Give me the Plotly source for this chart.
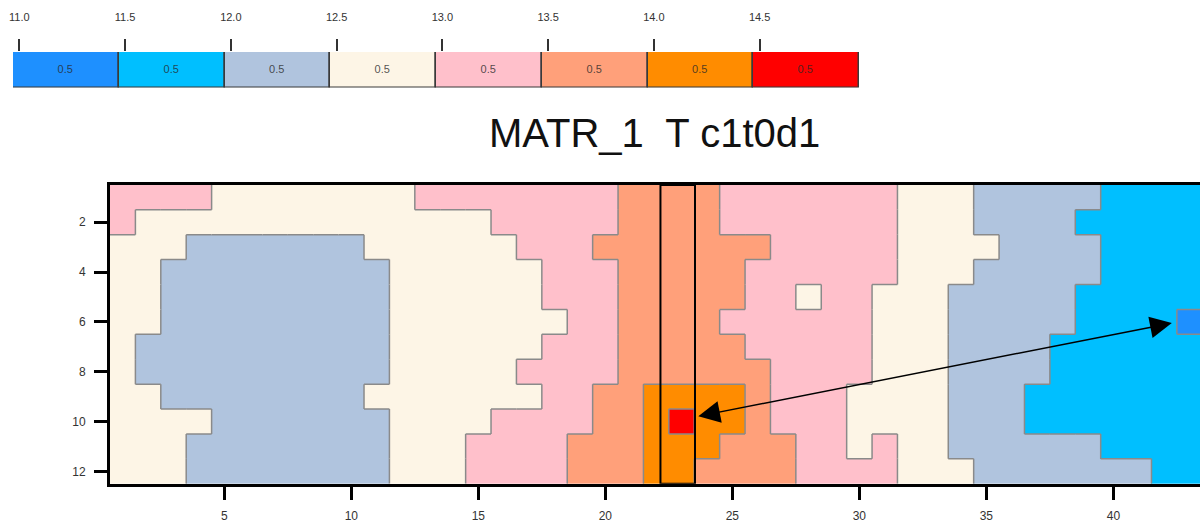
import plotly.graph_objects as go

# ---------------- data ----------------
TITLE = "MATR_1  T c1t0d1"

BIN_EDGES = [11.0, 11.5, 12.0, 12.5, 13.0, 13.5, 14.0, 14.5, 15.0]
BIN_COLORS = ["#1E90FF", "#00BFFF", "#B0C4DE", "#FDF5E6",
              "#FFC0CB", "#FFA07A", "#FF8C00", "#FF0000"]
BIN_WIDTH_LABELS = ["0.5", "0.5", "0.5", "0.5", "0.5", "0.5", "0.5", "0.5"]
EDGE_TICK_LABELS = ["11.0", "11.5", "12.0", "12.5", "13.0", "13.5", "14.0", "14.5"]

# class index (bin of BIN_EDGES) of every cell, row 1 (top) .. row 12, columns 1..43
GRID_ROWS = [
    "4444 33333333 44444444 5555 4444444 333 22222 1111",
    "4 33333333333333 44444 5555 4444444 333 2222 11111",
    "333 2222222 333333 444 5555555 44444 3333 2222 1111",
    "33 222222222 333333 444 55555 444444 333 22222 1111",
    "33 222222222 333333 444 55555 44 3 44 333 22222 11111",
    "33 222222222 3333333 44 5555 444444 333 22222 1111 0",
    "3 2222222222 333333 444 55555 44444 333 2222 111111",
    "3 2222222222 33333 4444 555555 4444 333 2222 111111",
    "33 22222222 3333333 44 55 6666 5 444 3333 222 1111111",
    "3333 2222222 3333 4444 55 6 7 66 5 444 3333 222 1111111",
    "333 22222222 333 4444 555 666 555 44 3 4 33 222222 1111",
    "333 22222222 333 4444 555 66 5555 4444 333 2222222 11",
]

X_TICKS = [5, 10, 15, 20, 25, 30, 35, 40]
Y_TICKS = [2, 4, 6, 8, 10, 12]

HIGHLIGHT_COLUMN_SPAN = [22.17, 23.53]
ARROW_FROM = (23.6, 9.8)   # near the hottest cell
ARROW_TO = (42.3, 6.05)    # near the coldest cell

# ---------------- build ----------------
grid = [[int(ch) for ch in row.replace(" ", "")] for row in GRID_ROWS]
for row in grid:
    assert len(row) == 43, len(row)
n_rows = len(grid)
n_cols = len(grid[0])

z = [[BIN_EDGES[k] + (BIN_EDGES[k + 1] - BIN_EDGES[k]) / 2 for k in row] for row in grid]
xs = list(range(1, n_cols + 1))
ys = list(range(1, n_rows + 1))

zmin, zmax = BIN_EDGES[0], BIN_EDGES[-1]
nb = len(BIN_COLORS)
colorscale = []
for i, c in enumerate(BIN_COLORS):
    colorscale.append([i / nb, c])
    colorscale.append([(i + 1) / nb, c])

# class boundaries
bx, by = [], []
for r in range(n_rows):
    for c in range(n_cols - 1):
        if grid[r][c] != grid[r][c + 1]:
            bx += [c + 1.5, c + 1.5, None]
            by += [r + 0.5, r + 1.5, None]
for r in range(n_rows - 1):
    for c in range(n_cols):
        if grid[r][c] != grid[r + 1][c]:
            bx += [c + 0.5, c + 1.5, None]
            by += [r + 1.5, r + 1.5, None]

FONT = "Liberation Sans, Arial, sans-serif"

fig = go.Figure()
fig.add_trace(go.Heatmap(
    x=xs, y=ys, z=z, zmin=zmin, zmax=zmax, colorscale=colorscale,
    showscale=False, hoverinfo="skip", xaxis="x", yaxis="y"))
fig.add_trace(go.Scatter(
    x=bx, y=by, mode="lines", line=dict(color="#8a8a8a", width=1.5),
    hoverinfo="skip", showlegend=False, xaxis="x", yaxis="y"))

# legend bar (discrete colour key)
centers = [(BIN_EDGES[i] + BIN_EDGES[i + 1]) / 2 for i in range(nb)]
widths = [BIN_EDGES[i + 1] - BIN_EDGES[i] for i in range(nb)]
fig.add_trace(go.Bar(
    x=centers, y=[1] * nb, width=widths, base=0,
    marker=dict(color=BIN_COLORS, line=dict(color="#3a3a3a", width=1.5)),
    text=BIN_WIDTH_LABELS, textposition="inside", insidetextanchor="middle",
    textfont=dict(size=11, color="rgba(40,40,40,0.8)", family=FONT),
    textangle=0, hoverinfo="skip", showlegend=False, xaxis="x2", yaxis="y2"))

fig.add_shape(type="rect", xref="x", yref="y",
              x0=HIGHLIGHT_COLUMN_SPAN[0], x1=HIGHLIGHT_COLUMN_SPAN[1],
              y0=0.5, y1=n_rows + 0.5, line=dict(color="black", width=2),
              fillcolor="rgba(0,0,0,0)", layer="above")

fig.add_annotation(x=ARROW_TO[0], y=ARROW_TO[1], ax=ARROW_FROM[0], ay=ARROW_FROM[1],
                   xref="x", yref="y", axref="x", ayref="y", text="",
                   showarrow=True, arrowside="end+start", arrowhead=2, startarrowhead=2,
                   arrowsize=2.9, startarrowsize=2.9, arrowwidth=1.5, arrowcolor="black")

fig.add_annotation(x=654 / 1200, y=1 - 133 / 525, xref="paper", yref="paper",
                   text=TITLE, showarrow=False, xanchor="center", yanchor="middle",
                   font=dict(size=40, color="#111111", family=FONT))

tick_offset = 0.03
fig.update_layout(
    width=1200, height=525,
    margin=dict(l=0, r=0, t=0, b=0),
    paper_bgcolor="white", plot_bgcolor="white",
    showlegend=False, bargap=0,
    font=dict(family=FONT, color="#333333"),
    xaxis=dict(domain=[110 / 1200, 1.0], range=[0.5, 43.41], anchor="y",
               tickmode="array", tickvals=X_TICKS, ticks="outside", ticklen=13,
               tickwidth=3, tickcolor="black", showline=True, linewidth=3,
               linecolor="black", mirror=True, showgrid=False, zeroline=False,
               tickfont=dict(size=12, color="#333333"), ticklabelstandoff=6,
               automargin=False),
    yaxis=dict(domain=[1 - 483.75 / 525, 1 - 184.9 / 525], range=[n_rows + 0.5, 0.5],
               anchor="x", tickmode="array", tickvals=Y_TICKS, ticks="outside",
               ticklen=13, tickwidth=3, tickcolor="black", showline=True,
               linewidth=3, linecolor="black", mirror=False, showgrid=False,
               zeroline=False, tickfont=dict(size=12, color="#333333"),
               ticklabelstandoff=6, automargin=False),
    xaxis2=dict(domain=[13 / 1200, 859 / 1200], range=[BIN_EDGES[0], BIN_EDGES[-1]],
                anchor="y2", side="top", tickmode="array",
                tickvals=[e + tick_offset for e in BIN_EDGES[:-1]],
                ticktext=EDGE_TICK_LABELS, ticks="outside", ticklen=12, tickwidth=1.5,
                tickcolor="#333333", showline=False, showgrid=False, zeroline=False,
                tickfont=dict(size=11, color="#333333"), ticklabelstandoff=14,
                automargin=False, fixedrange=True),
    yaxis2=dict(domain=[1 - 87.5 / 525, 1 - 52 / 525], range=[0, 1], anchor="x2",
                visible=False, fixedrange=True),
)

fig.write_html("out.html")
